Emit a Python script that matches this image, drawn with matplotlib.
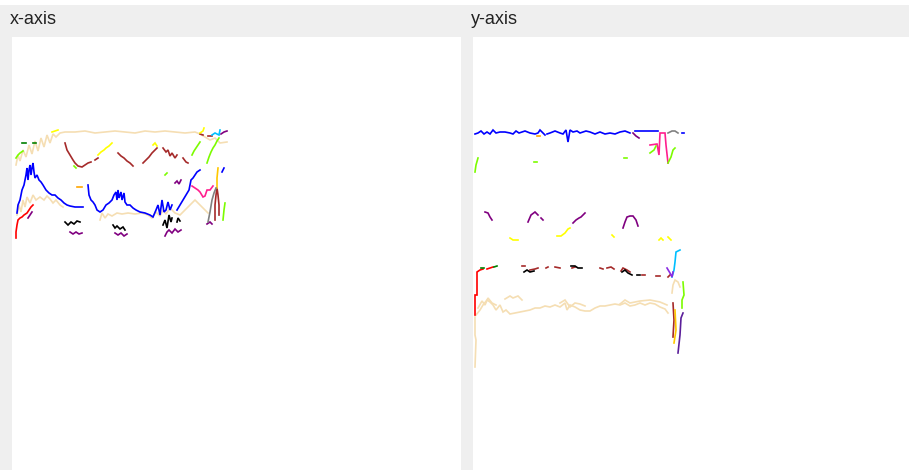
import numpy as np
import matplotlib
matplotlib.use("Agg")
import matplotlib.pyplot as plt
from matplotlib.patches import Rectangle

# Track positions per frame: (frame, position) pairs, None marks a gap in a track.
# Positions are in image pixels measured from the top, so the value axes are inverted.

# ---------------- x-axis panel ----------------
X_WHEAT_TOP = [(4, 128), (6, 118), (8, 124), (11, 113), (14, 120), (17, 108), (20, 117), (23, 104),
               (26, 114), (29, 101), (32, 110), (35, 98), (38, 106), (41, 97), (44, 100), (48, 96),
               (53, 95), (63, 95), (73, 94), (83, 96), (93, 95), (103, 94), (113, 95), (123, 96),
               (133, 94), (143, 95), (153, 94), (163, 95), (173, 96), (183, 95), (188, 97),
               (193, 100), (198, 103), (203, 101), (208, 106), (215, 105)]
X_WHEAT_LOW = [(5, 178), (7, 168), (9, 175), (11, 163), (13, 170), (15, 160), (18, 166), (21, 158),
               (24, 163), (28, 160), (32, 163), (35, 159), (38, 162), (41, 166), (44, 163), (48, 168),
               (51, 170), None,
               (88, 183), (90, 176), (93, 181), (96, 177), (100, 179), (105, 176), (110, 177),
               (116, 176), (123, 177), (130, 176), (136, 178), (140, 181), (144, 175), (148, 179),
               (151, 173), (154, 177), (158, 171), (163, 176), (168, 178), (173, 173), (178, 168),
               (183, 163), (188, 168), (193, 173), (196, 176)]
X_BLUE = [(5, 176), (6, 168), (8, 163), (10, 153), (12, 148), (14, 138), (15, 131), (16, 143),
          (17, 133), (18, 128), (19, 138), (20, 131), (21, 126), (22, 135), (23, 141), (25, 138),
          (27, 143), (29, 145), (31, 148), (34, 153), (37, 156), (40, 158), (43, 158), (46, 161),
          (49, 163), (52, 166), (55, 168), (58, 169), (63, 170), (71, 170), None,
          (76, 148), (77, 158), (79, 163), (81, 165), (83, 168), (85, 173), (88, 175), (91, 173),
          (94, 168), (97, 166), (100, 163), (102, 158), (104, 155), (105, 163), (106, 153),
          (107, 161), (109, 155), (110, 163), (112, 156), (113, 165), (115, 168), (118, 168),
          (121, 171), (124, 173), (128, 175), (133, 176), (138, 178), (141, 180), (144, 173),
          (146, 168), (148, 178), (150, 163), (152, 175), (154, 173), (156, 165), (158, 173),
          (160, 168), None,
          (165, 173), (168, 168), (171, 163), (174, 158), (177, 153), (179, 143), (181, 141),
          (183, 138), (185, 135), (188, 133), None,
          (210, 135), (212, 131)]
X_BROWN = [(53, 106), (55, 113), (58, 118), (61, 123), (63, 126), (66, 129), (70, 130), (73, 128),
           (76, 126), (79, 125), None, (83, 123), (86, 121), None,
           (106, 116), (109, 119), (112, 121), (115, 124), (118, 126), (121, 129), None,
           (131, 126), (134, 123), (137, 120), (140, 116), (143, 113), (145, 111), None,
           (151, 111), (154, 115), (156, 113), (158, 119), (160, 116), (163, 121), (165, 118), None,
           (171, 121), (174, 125), (176, 126), None,
           (188, 97), (191, 98), None, (196, 99), (200, 99), None,
           (203, 183), (203, 168), (204, 158), (205, 151), (206, 158), (207, 168), (207, 178)]
X_YELLOW = [(86, 118), (89, 115), (92, 113), (94, 111), (97, 109), (100, 106), None,
            (40, 95), (43, 94), (46, 93), None,
            (141, 108), (143, 106), (145, 109), None,
            (188, 96), (191, 94), (192, 91)]
X_GOLD = [(205, 151), (205, 141), (206, 131)]
X_GREEN = [(4, 121), (6, 118), (8, 116), (11, 114), None,
           (62, 129), (64, 131), None,
           (153, 138), (155, 136), None,
           (180, 118), (182, 114), (184, 111), (186, 108), (188, 105), None,
           (195, 126), (197, 120), (199, 115), (201, 111), (203, 108), (205, 104), (207, 101), None,
           (211, 183), (212, 173), (213, 166)]
X_DARKGREEN = [(10, 106), (14, 106), None, (21, 106), (24, 106)]
X_RED = [(4, 201), (4, 195), (5, 188), (6, 183), (8, 181), (10, 180), (12, 178), (15, 176),
         (17, 173), (19, 170), (21, 168)]
X_PURPLE = [(16, 181), (18, 178), (20, 175), None,
            (58, 195), (61, 197), (64, 195), (67, 197), (70, 196), None,
            (103, 196), (106, 198), (109, 196), (112, 199), (115, 197), None,
            (163, 146), (165, 144), (167, 147), (169, 143), None,
            (153, 199), (155, 195), (157, 193), (160, 196), (163, 192), (166, 195), (169, 193), None,
            (195, 187), (198, 185), (200, 187), None,
            (209, 97), (212, 95), (215, 94)]
X_BLACK = [(53, 185), (56, 188), (59, 185), (62, 187), (65, 184), (68, 185), None,
           (101, 188), (103, 191), (105, 189), (108, 192), (111, 190), (113, 193), None,
           (151, 188), (153, 183), (155, 191), (157, 178), (159, 185), (160, 181), None,
           (165, 185), (166, 181), (168, 184)]
X_PINK = [(180, 149), (183, 151), (186, 153), (188, 155), (191, 160), (193, 159), (195, 153),
          (198, 153), (201, 149)]
X_GRAY = [(196, 185), (198, 175), (200, 163), (202, 156), (204, 151)]
X_ORANGE = [(65, 150), (70, 150)]
X_SKY = [(200, 98), (203, 96), (207, 98), (208, 93)]

# ---------------- y-axis panel ----------------
Y_BLUE = [(2, 97), (5, 96), (8, 94), (11, 97), (14, 95), (17, 97), (20, 93), (23, 96), (27, 95),
          (32, 95), (37, 96), (40, 97), (43, 94), (46, 96), (49, 95), (52, 94), (57, 96), (62, 97),
          (65, 96), (67, 93), (70, 96), (72, 98), None,
          (74, 97), (77, 96), (82, 94), (87, 96), (90, 97), (93, 93), (95, 105), (97, 93),
          (100, 95), (104, 94), (107, 96), (110, 95), (113, 94), (117, 95), (122, 97), (127, 95),
          (132, 97), (137, 96), (142, 97), (147, 95), (152, 94), (157, 96), None,
          (162, 94), (185, 94), None, (209, 96), (211, 96)]
Y_ORANGE = [(64, 99), (67, 99)]
Y_PURPLE = [(160, 96), (163, 99), (166, 101), None,
            (12, 175), (15, 176), (17, 180), (19, 183), None,
            (55, 185), (58, 178), (62, 175), (65, 178), None, (68, 181), (70, 183), None,
            (100, 186), (103, 183), (106, 181), (108, 180), (110, 178), (112, 176), None,
            (150, 191), (152, 185), (154, 180), (157, 179), (160, 179), (163, 183), (165, 189)]
Y_PINK = [(177, 108), (184, 107), (186, 118), (187, 96), (192, 96), (193, 108), (195, 126)]
Y_GRAY = [(195, 96), (199, 94), (202, 94), (205, 96)]
Y_GREEN = [(2, 135), (3, 128), (5, 121), None,
           (61, 125), (64, 125), None,
           (151, 121), (154, 121), None,
           (177, 116), (181, 113), (183, 109), None,
           (195, 126), (198, 120), (200, 113), (202, 111), None,
           (210, 245), (211, 258), (209, 263), (209, 271)]
Y_YELLOW = [(37, 201), (40, 203), (43, 203), (45, 203), None,
            (84, 199), (88, 199), (92, 196), (95, 192), (97, 191), None,
            (139, 198), (141, 200), None,
            (186, 203), (188, 201), (190, 203), None,
            (195, 200), (198, 203)]
Y_SKY = [(199, 240), (201, 233), (202, 225), (203, 215), (207, 213)]
Y_RED = [(2, 278), (2, 258), (4, 258), (4, 235), (7, 233), (10, 232), None,
         (14, 232), (17, 231), (20, 230)]
Y_DARKGREEN = [(8, 231), (11, 231), None, (21, 230), (24, 229)]
Y_BROWN = [(49, 229), (52, 229), None, (57, 233), (62, 232), (65, 231), None,
           (73, 231), (75, 230), None, (82, 230), (87, 231), None, (99, 231), (102, 230), None,
           (127, 231), (130, 232), None, (134, 231), (138, 230), (141, 232), None,
           (148, 234), (150, 231), (154, 233), (157, 235), None, (169, 238), (172, 238), None,
           (183, 239), (187, 239), None, (195, 240), (197, 238), None,
           (200, 266), (201, 283), (200, 300)]
Y_BLACK = [(51, 235), (54, 233), (57, 235), (61, 234), None,
           (98, 229), (102, 229), (105, 231), (109, 231), None,
           (149, 235), (152, 233), (155, 236), (159, 238), None,
           (164, 238), (167, 238)]
Y_VIOLET = [(194, 231), (197, 236), (199, 240), (200, 235)]
Y_WHEAT_A = [(3, 278), (7, 273), (10, 268), (14, 263), (17, 265), (20, 268), (23, 273), (27, 268),
             (30, 275), (33, 273), (37, 277), (42, 276), (47, 275), (52, 274), (57, 273), (62, 271),
             (67, 271), (72, 269), (77, 270), (82, 268), (87, 270), (92, 266), (94, 273), (97, 268),
             (102, 270), (107, 273), (112, 274), (117, 274), (122, 271), (127, 269), (132, 269),
             (137, 268), (142, 267), (147, 268), (152, 266), (157, 269), (162, 268), (167, 266),
             (172, 268), (177, 266), (182, 267), (187, 270), (192, 272), (195, 276), None,
             (2, 280), (2, 298), (3, 303), (2, 330), None,
             (199, 256), (200, 248), (202, 243), (205, 245), (207, 250)]
Y_WHEAT_B = [(5, 271), (9, 264), (12, 268), (15, 261), (19, 266), (23, 268), None,
             (32, 262), (37, 259), (40, 261), (45, 259), (49, 263), None,
             (87, 266), (92, 263), (97, 270), (102, 266), (107, 267), (112, 269), None,
             (147, 267), (152, 263), (157, 266), (167, 264), (177, 263), (187, 265), (194, 268)]
Y_GOLD = [(202, 273), (203, 293), (201, 306)]
Y_INDIGO = [(210, 276), (208, 281), (207, 298), (205, 316)]

TITLES = ["x-axis", "y-axis"]

COLORS = {
    "wheat": "#f5deb3", "blue": "#0000ff", "brown": "#a52a2a", "yellow": "#ffff00",
    "gold": "#ffc800", "green": "#7cfc00", "darkgreen": "#008000", "red": "#ff0000",
    "purple": "#800080", "black": "#000000", "pink": "#ff1f8e", "gray": "#808080",
    "orange": "#ffa500", "sky": "#00bfff", "violet": "#8a2be2", "indigo": "#5b1f9a",
}

LEFT_TRACKS = [
    (X_WHEAT_LOW, "wheat"), (X_WHEAT_TOP, "wheat"), (X_BLUE, "blue"), (X_BROWN, "brown"),
    (X_YELLOW, "yellow"), (X_GOLD, "gold"), (X_GREEN, "green"), (X_DARKGREEN, "darkgreen"),
    (X_RED, "red"), (X_PURPLE, "purple"), (X_BLACK, "black"), (X_PINK, "pink"),
    (X_GRAY, "gray"), (X_ORANGE, "orange"), (X_SKY, "sky"),
]
RIGHT_TRACKS = [
    (Y_WHEAT_B, "wheat"), (Y_WHEAT_A, "wheat"), (Y_BLUE, "blue"), (Y_ORANGE, "orange"),
    (Y_PURPLE, "purple"), (Y_PINK, "pink"), (Y_GRAY, "gray"), (Y_GREEN, "green"),
    (Y_YELLOW, "yellow"), (Y_SKY, "sky"), (Y_RED, "red"), (Y_DARKGREEN, "darkgreen"),
    (Y_BROWN, "brown"), (Y_BLACK, "black"), (Y_VIOLET, "violet"), (Y_GOLD, "gold"),
    (Y_INDIGO, "indigo"),
]


def to_arrays(points):
    f = np.array([np.nan if p is None else p[0] for p in points], dtype=float)
    v = np.array([np.nan if p is None else p[1] for p in points], dtype=float)
    return f, v


W, H = 909, 470
fig = plt.figure(figsize=(W / 100, H / 100), dpi=100, facecolor="#efefef")
fig.patches.append(Rectangle((0, 1 - 5 / H), 1, 5 / H, transform=fig.transFigure,
                             facecolor="white", edgecolor="none", zorder=0))

panels = [(12, 449, LEFT_TRACKS), (473, 436, RIGHT_TRACKS)]
for (left, width, tracks), title in zip(panels, TITLES):
    ax = fig.add_axes([left / W, 0, width / W, (H - 37) / H])
    ax.set_facecolor("white")
    ax.set_xlim(0, width)
    ax.set_ylim(H - 37, 0)
    for s in ax.spines.values():
        s.set_visible(False)
    ax.set_xticks([])
    ax.set_yticks([])
    for pts, cname in tracks:
        f, v = to_arrays(pts)
        ax.plot(f, v, color=COLORS[cname], lw=1.2, solid_joinstyle="miter")
    fig.text((left - 2) / W, 1 - 20 / H, title, ha="left", va="center",
             fontsize=13, color="#222222", family=["Liberation Sans", "DejaVu Sans"])

fig.savefig("out.png", dpi=100, facecolor=fig.get_facecolor())
